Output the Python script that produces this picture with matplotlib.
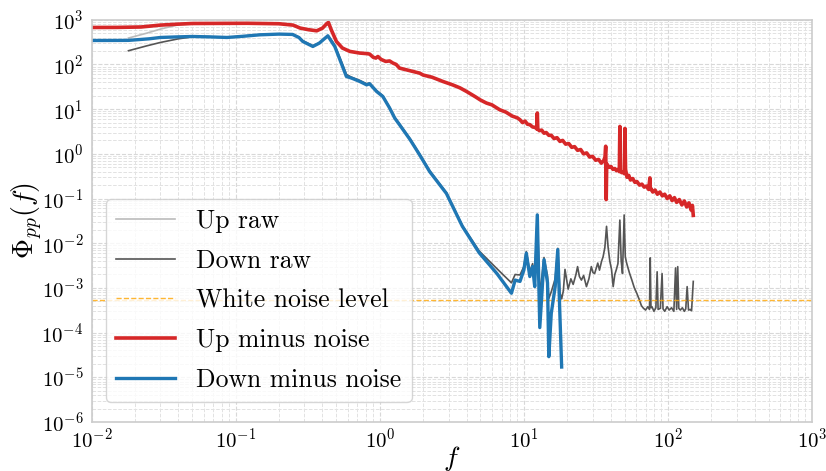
import numpy as np
import matplotlib
matplotlib.use('Agg')
import matplotlib.pyplot as plt

plt.rcParams['font.family'] = 'serif'
plt.rcParams['font.serif'] = ['cmr10', 'DejaVu Serif']
plt.rcParams['mathtext.fontset'] = 'cm'
plt.rcParams['axes.formatter.use_mathtext'] = True

# white noise level of the pressure spectrum
noise_level = 5.5e-4

# Up minus noise (red)
up_f = [0.01, 0.015, 0.022, 0.03, 0.04, 0.05, 0.08, 0.12, 0.2, 0.25, 0.28, 0.32, 0.365,
        0.4, 0.43, 0.44, 0.46, 0.5, 0.55, 0.62, 0.726, 0.81, 0.85, 0.9, 0.94, 0.97, 1.02,
        1.1, 1.17, 1.23, 1.3, 1.37, 1.53, 1.69, 1.89, 2.0, 2.3, 2.74, 3.2, 3.6, 4.0, 4.6,
        5.0, 5.5, 6.0, 6.8, 7.5, 8.3, 9.0,
        9.4, 9.8, 10.2, 10.6, 11.0, 11.5, 12.0, 12.3, 12.4, 12.5, 12.8, 13.3, 13.8, 14.3,
        14.9, 15.5, 16.2, 17.0, 17.8, 18.6, 19.5, 20.5, 21.5, 22.5, 23.6, 24.8, 26.0, 27.3,
        28.6, 30.0, 31.5, 33.0, 34.5, 35.8, 36.6, 37.0, 37.3, 37.6, 38.2, 39.2, 40.3, 41.5,
        42.8, 44.0, 45.2, 46.0, 46.4, 46.8, 47.8, 49.0, 49.8, 50.3, 50.8, 52.0, 53.5, 55.0,
        57.0, 59.0, 61.0, 63.5, 66.0, 68.5, 71.0, 73.5, 75.0, 75.5, 76.0, 78.5, 81.5, 84.5,
        88.0, 91.5, 95.0, 99.0, 103, 107, 111, 115, 120, 125, 130, 135, 140, 145, 148, 150]
up_minus = [673, 675, 690, 760, 800, 826, 830, 835, 815, 760, 652, 600, 567,
            650, 830, 870, 600, 327, 233, 196, 180, 175, 171, 145, 139, 151, 130,
            117, 120, 108, 100, 83, 76, 70, 64, 58, 52, 41.7, 35, 30, 24.9, 19,
            16, 13.7, 12.5, 9.7, 8.6, 7.0, 6.4,
            5.8, 5.0, 5.4, 4.6, 4.5, 4.0, 3.9, 3.6, 8.2, 3.6, 3.3, 3.4, 2.9, 3.0,
            2.6, 2.6, 2.2, 2.3, 1.9, 2.0, 1.65, 1.7, 1.4, 1.45, 1.2, 1.25, 1.0, 1.05,
            0.85, 0.88, 0.72, 0.75, 0.62, 0.7, 0.85, 1.48, 0.095, 0.6, 0.55, 0.5, 0.52, 0.45,
            0.47, 0.42, 0.45, 0.4, 4.1, 0.42, 0.38, 0.4, 0.36, 3.7, 0.45, 0.3, 0.33, 0.26,
            0.28, 0.23, 0.24, 0.2, 0.21, 0.18, 0.19, 0.16, 0.29, 0.16, 0.17, 0.14, 0.155, 0.125,
            0.14, 0.115, 0.125, 0.1, 0.115, 0.09, 0.105, 0.082, 0.095, 0.072, 0.088, 0.065, 0.08,
            0.055, 0.07, 0.042]

# Down minus noise (blue)
down_f = [0.01, 0.015, 0.018, 0.025, 0.03, 0.04, 0.05, 0.065, 0.087, 0.11, 0.147, 0.2,
          0.248, 0.275, 0.292, 0.343, 0.38, 0.436, 0.47, 0.487, 0.54, 0.586, 0.636, 0.726,
          0.81, 0.85, 0.95, 1.05, 1.17, 1.27, 1.37, 1.62, 1.89, 2.22, 2.9, 3.74, 4.9, 6.5,
          8.2, 8.7, 9.4, 10.0, 10.4, 11.0, 11.5, 11.9, 12.4, 12.9, 13.8, 14.6, 14.9, 15.5,
          16.5, 17.2, 17.8, 18.3]
down_minus = [344, 345, 346, 375, 402, 415, 423, 415, 402, 425, 461, 478,
              470, 400, 327, 253, 300, 438, 300, 253, 107, 54, 49.6, 41.7,
              35, 37, 24.9, 19.2, 10.6, 6.3, 4.5, 2.1, 0.95, 0.4, 0.13, 0.024, 0.0061, 0.0021,
              7.6e-4, 1.5e-3, 1.4e-3, 2.5e-3, 6.0e-3, 1.8e-3, 3.0e-3, 1.07e-3, 0.043, 1.3e-4,
              4.3e-3, 1.3e-3, 2.9e-5, 2.7e-4, 1.07e-3, 7.2e-3, 2.4e-4, 1.7e-5]

# Up raw (light grey), visible only at low f before it merges with the red curve
up_raw_f = [0.018, 0.024, 0.03, 0.039, 0.05, 0.08, 0.12, 0.2, 0.25]
up_raw = [390, 500, 619, 760, 815, 830, 835, 815, 760]

# Down raw (dark grey)
down_raw_f = [0.018, 0.024, 0.03, 0.04, 0.05, 0.065, 0.087, 0.11, 0.147, 0.2, 0.248, 0.275,
              0.292, 0.343, 0.38, 0.436, 0.47, 0.487, 0.54, 0.586, 0.636, 0.726, 0.81, 0.85,
              0.95, 1.05, 1.17, 1.27, 1.37, 1.62, 1.89, 2.22, 2.9, 3.74, 4.9, 6.5, 8.2, 8.7,
              9.4, 10.0, 10.4, 11.0, 11.5, 11.9, 12.4, 12.9, 13.8, 14.6, 14.9, 15.5, 16.5,
              17.2, 17.8, 18.3, 18.8, 19.3, 20.3, 21.2, 22.0, 23.0, 23.6, 24.3, 25.1, 26.0,
              27.2, 28.3, 29.4, 30.2, 31.0, 32.6, 33.5, 34.6, 35.5, 36.5, 37.5, 38.4, 39.5,
              40.6, 41.7, 42.8, 43.9, 45.0, 46.4, 47.4, 48.4, 49.7, 50.6, 51.7, 54.0, 56.2,
              58.5, 60.8, 63.4, 65.5, 67.7, 70, 72.5, 74.5, 75.4, 76.3, 77.5, 80, 82.5, 84.2,
              85.5, 88.6, 91.1, 92.5, 95, 98.8, 102, 106, 110, 113, 115, 117, 119, 122, 126,
              130, 133, 136, 139, 143, 146, 150]
down_raw = [203, 260, 311, 375, 415, 418, 405, 428, 465, 482, 475, 410,
            340, 262, 305, 445, 325, 270, 120, 60, 52, 44, 37, 38.5,
            26, 20, 11, 6.6, 4.7, 2.2, 1.0, 0.42, 0.136, 0.025, 0.0067, 0.0027, 0.0013, 2.0e-3,
            1.95e-3, 3.0e-3, 6.5e-3, 2.3e-3, 3.5e-3, 1.6e-3, 0.044, 6.8e-4, 4.8e-3, 1.85e-3,
            5.8e-4, 8.2e-4, 1.6e-3, 7.7e-3, 7.9e-4, 5.7e-4, 8.6e-4, 2.6e-3, 9.4e-4, 1.6e-3,
            1.2e-3, 2.0e-3, 3.0e-3, 1.8e-3, 1.5e-3, 1.9e-3, 1.07e-3, 1.6e-3, 3.0e-3, 2.2e-3,
            2.1e-3, 3.6e-3, 2.5e-3, 3.9e-3, 5.0e-3, 8.0e-3, 0.0239, 8.4e-3, 4.0e-3, 2.6e-3,
            1.07e-3, 2.0e-3, 2.6e-3, 3.5e-3, 0.033, 4.0e-3, 2.1e-3, 0.043, 5.0e-3, 3.6e-3,
            2.2e-3, 1.5e-3, 1.0e-3, 7.6e-4, 5.4e-4, 4.0e-4, 3.5e-4, 3.2e-4, 3.8e-4, 3.3e-4,
            4.7e-3, 3.6e-4, 3.8e-4, 3.0e-4, 3.6e-4, 2.3e-3, 3.3e-4, 3.5e-4, 2.1e-3, 3.4e-4,
            3.0e-4, 3.8e-4, 3.2e-4, 3.6e-4, 3.0e-4, 2.8e-3, 3.3e-4, 3.0e-3, 3.5e-4, 3.2e-4,
            3.6e-4, 3.0e-4, 3.4e-4, 1.07e-3, 3.2e-4, 3.3e-4, 3.1e-4, 1.4e-3]

fig, ax = plt.subplots(figsize=(8.26, 4.71), dpi=100)
fig.subplots_adjust(left=0.111, right=0.983, top=0.958, bottom=0.104)

ax.loglog(up_raw_f, up_raw, color='#bbbbbb', lw=1.2, label='Up raw')
ax.loglog(down_raw_f, down_raw, color='#555555', lw=1.2, label='Down raw')
ax.axhline(noise_level, color='orange', ls='--', lw=1.0, alpha=0.8, label='White noise level')
ax.loglog(up_f, up_minus, color='#d62728', lw=2.6, label='Up minus noise')
ax.loglog(down_f, down_minus, color='#1f77b4', lw=2.4, label='Down minus noise')

ax.set_xlim(1e-2, 1e3)
ax.set_ylim(1e-6, 1e3)
ax.set_xticks([1e-2, 1e-1, 1e0, 1e1, 1e2, 1e3])
ax.set_yticks([10.0 ** k for k in range(-6, 4)])

ax.grid(True, which='major', color='#d8d8d8', ls='--', lw=0.8)
ax.grid(True, which='minor', color='#e2e2e2', ls='--', lw=0.7)
ax.set_axisbelow(True)
for s in ax.spines.values():
    s.set_color('#cccccc')
    s.set_linewidth(1.2)
ax.tick_params(which='both', length=0, labelsize=15)
ax.tick_params(axis='x', pad=4)
ax.tick_params(axis='y', pad=6)

ax.set_xlabel('$f$', fontsize=20)
ax.xaxis.set_label_coords(0.5, -0.055)
ax.set_ylabel(r'$\Phi_{pp}(f)$', fontsize=20, labelpad=-3)

leg = ax.legend(loc='lower left', bbox_to_anchor=(0.02, 0.05), borderaxespad=0,
                fontsize=18.5, handlelength=2.3, labelspacing=0.62, framealpha=0.8,
                edgecolor='#cccccc', fancybox=True)

plt.savefig('out.png', dpi=100)
